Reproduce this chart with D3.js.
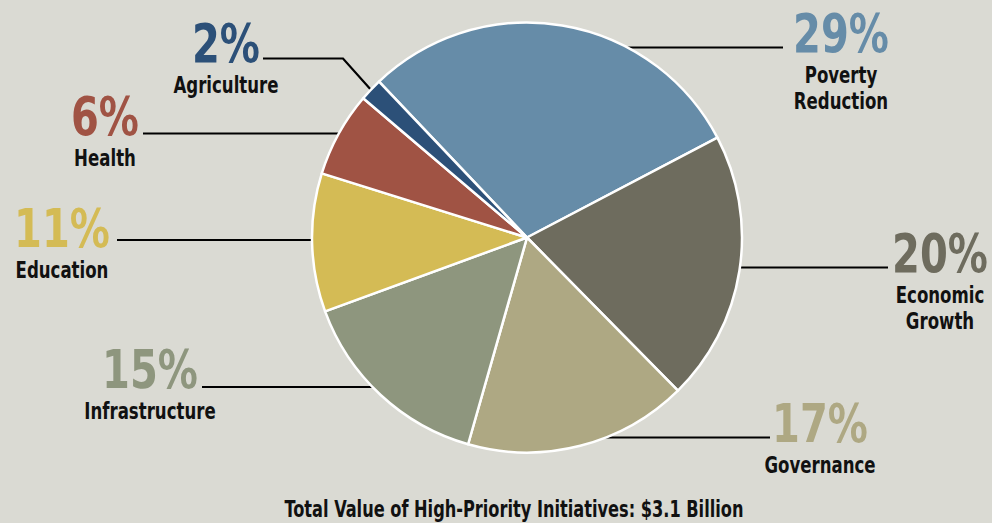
<!DOCTYPE html>
<html><head><meta charset="utf-8">
<script src="https://cdn.jsdelivr.net/npm/d3@7"></script>
<style>
html,body{margin:0;padding:0;background:#dadad3;}
svg{display:block;}
text{font-family:"Liberation Sans Narrow","DejaVu Sans Condensed",Arial,sans-serif;font-stretch:condensed;}
</style></head>
<body>
<svg id="chart" width="992" height="523"></svg>
<script>
// ---- data ----
const categories = ["Poverty Reduction","Economic Growth","Governance","Infrastructure","Education","Health","Agriculture"];
const values = [29.4, 20.3, 16.8, 15.0, 10.4, 6.4, 1.7];
const percentLabels = ["29%","20%","17%","15%","11%","6%","2%"];
const nameLines = [["Poverty","Reduction"],["Economic","Growth"],["Governance"],["Infrastructure"],["Education"],["Health"],["Agriculture"]];
const colors = ["#668ca8","#6e6c5e","#aea883","#8e967e","#d4bb55","#a05344","#2c5078"];
const title = "Total Value of High-Priority Initiatives: $3.1 Billion";

// ---- layout (label anchor positions) ----
const cx = 527, cy = 237.5, R = 215;
const labelLayout = [
  {side:"right", lineY:47.5, lineEnd:783, tx:841, ty:51.5},
  {side:"right", lineY:267.5, lineEnd:888, tx:940, ty:271.5},
  {side:"right", lineY:437.5, lineEnd:770, tx:820, ty:441.5},
  {side:"left",  lineY:387, lineEnd:202, tx:150, ty:388},
  {side:"left",  lineY:240, lineEnd:117, tx:62, ty:246.5},
  {side:"left",  lineY:133.5, lineEnd:143, tx:105, ty:135},
  {side:"elbow", lineY:58.5, lineEnd:263, elbowX:343, tx:226, ty:62}
];

const svg = d3.select("#chart");
svg.append("rect").attr("width",992).attr("height",523).attr("fill","#dadad3");

const data = categories.map((c,i)=>({name:c, value:values[i], color:colors[i], pct:percentLabels[i], lines:nameLines[i], lay:labelLayout[i]}));

const start = -43.5*Math.PI/180;
const pie = d3.pie().value(d=>d.value).sort(null).startAngle(start).endAngle(start+2*Math.PI);
const arcs = pie(data);
const arc = d3.arc().innerRadius(0).outerRadius(R);

// leader lines (drawn under pie)
const lines = svg.append("g");
arcs.forEach(a=>{
  const L = a.data.lay;
  if (L.side === "elbow") {
    const mid = (a.startAngle + a.endAngle)/2;
    const px = cx + R*Math.sin(mid), py = cy - R*Math.cos(mid);
    lines.append("path")
      .attr("d", d3.line()([[L.lineEnd, L.lineY],[L.elbowX, L.lineY],[px, py]]))
      .attr("fill","none").attr("stroke","#000").attr("stroke-width",2.2);
  } else {
    const dx = Math.sqrt(Math.max(0, R*R - (L.lineY-cy)*(L.lineY-cy)));
    const x0 = L.side === "right" ? cx + dx - 3 : cx - dx + 3;
    lines.append("line")
      .attr("x1", x0).attr("y1", L.lineY).attr("x2", L.lineEnd).attr("y2", L.lineY)
      .attr("stroke","#000").attr("stroke-width",2.2);
  }
});

// pie
svg.append("g").attr("transform",`translate(${cx},${cy})`)
  .selectAll("path").data(arcs).join("path")
  .attr("d", arc).attr("fill", d=>d.data.color)
  .attr("stroke","#fff").attr("stroke-width",2.5).attr("stroke-linejoin","round");

// condensed text helper
function ctext(g, x, y, str, size, fill, sx) {
  return g.append("g").attr("transform", `translate(${x},${y}) scale(${sx},1)`)
    .append("text").attr("text-anchor","middle")
    .attr("font-size", size).attr("font-weight","bold").attr("fill", fill).text(str);
}

// labels
const lab = svg.append("g");
arcs.forEach(a=>{
  const d = a.data, L = d.lay;
  ctext(lab, L.tx, L.ty, d.pct, 53, d.color, 0.84);
  d.lines.forEach((t,j)=>{
    ctext(lab, L.tx, L.ty + 31 + j*26.5, t, 22.5, "#111", 0.82);
  });
});

ctext(svg, 514, 517, title, 22.5, "#111", 0.8);
</script>
</body></html>
